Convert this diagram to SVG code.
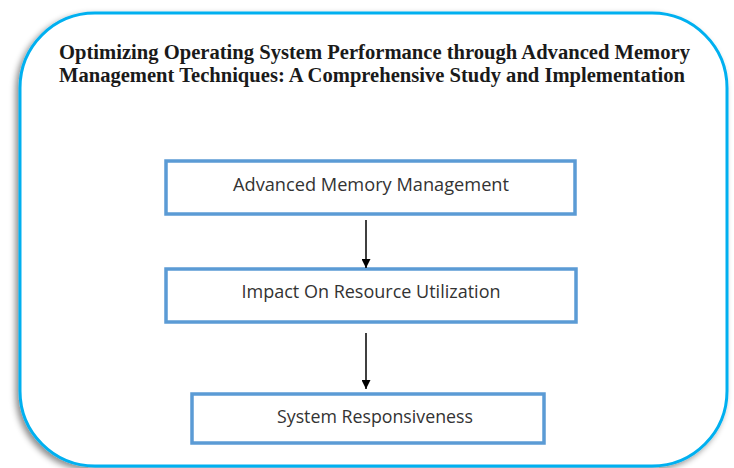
<svg xmlns="http://www.w3.org/2000/svg" width="734" height="468" viewBox="0 0 734 468">
  <defs>
    <filter id="frameShadow" x="-10%" y="-10%" width="120%" height="120%">
      <feDropShadow dx="-3" dy="3" stdDeviation="3" flood-color="#000" flood-opacity="0.45"/>
    </filter>
    <marker id="arrowHead" viewBox="0 0 10 10" refX="10" refY="5" markerWidth="9" markerHeight="9" markerUnits="userSpaceOnUse" orient="auto">
      <path d="M0,0 L10,5 L0,10 Z" fill="#000"/>
    </marker>
    <style>
      .frame { fill: #fff; stroke: #00b0f0; stroke-width: 3; }
      .title { font-family: "Liberation Serif", "Times New Roman", serif; font-weight: bold; font-size: 20px; fill: #1a1a1a; }
      .box { fill: #fff; stroke: #5b9bd5; stroke-width: 3.5; }
      .label { font-family: "Open Sans", "Liberation Sans", sans-serif; font-size: 18px; fill: #333; text-anchor: middle; }
      .link { stroke: #000; stroke-width: 1.5; fill: none; marker-end: url(#arrowHead); }
    </style>
  </defs>

  <rect width="734" height="468" fill="#fff"/>

  <!-- outer rounded frame with soft drop shadow -->
  <g id="frame">
    <rect class="frame" x="20" y="13" width="707" height="453" rx="75" ry="75" filter="url(#frameShadow)"/>
    <text class="title" x="59" y="59" textLength="631" lengthAdjust="spacingAndGlyphs">Optimizing Operating System Performance through Advanced Memory</text>
    <text class="title" x="59" y="82" textLength="626" lengthAdjust="spacingAndGlyphs">Management Techniques: A Comprehensive Study and Implementation</text>
  </g>

  <g id="node-memory">
    <rect class="box" x="166" y="161" width="409" height="53"/>
    <text class="label" x="371" y="191" textLength="276" lengthAdjust="spacingAndGlyphs">Advanced Memory Management</text>
  </g>

  <g id="node-utilization">
    <rect class="box" x="166" y="269" width="410" height="53"/>
    <text class="label" x="371" y="298" textLength="259" lengthAdjust="spacingAndGlyphs">Impact On Resource Utilization</text>
  </g>

  <g id="node-responsiveness">
    <rect class="box" x="192" y="394" width="352" height="49"/>
    <text class="label" x="375" y="423" textLength="196" lengthAdjust="spacingAndGlyphs">System Responsiveness</text>
  </g>

  <g id="connectors">
    <line class="link" x1="366" y1="220" x2="366" y2="268"/>
    <line class="link" x1="366" y1="333" x2="366" y2="389"/>
  </g>
</svg>
